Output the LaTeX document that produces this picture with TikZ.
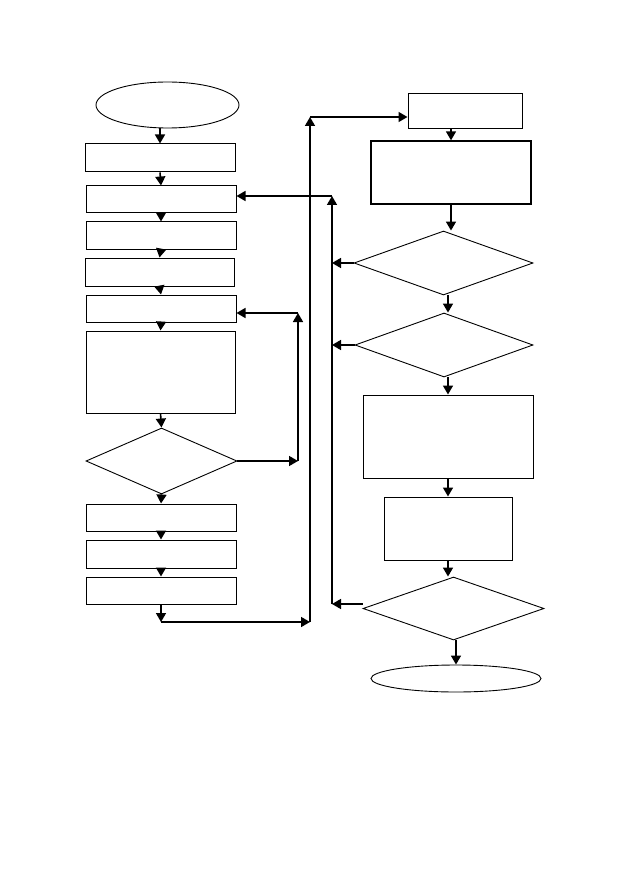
\documentclass[tikz,border=0pt]{standalone}
\usetikzlibrary{shapes.geometric,arrows.meta}
\begin{document}
\begin{tikzpicture}[x=1pt,y=-1pt,
  box/.style={draw,line width=1pt,rectangle,inner sep=0pt},
  dia/.style={draw,line width=0.9pt,diamond,inner sep=0pt},
  ell/.style={draw,line width=0.9pt,ellipse,inner sep=0pt},
  arr/.style={line width=1.6pt,-{Triangle[length=9pt,width=10pt]}},
  ln/.style={line width=1.6pt}]
\useasboundingbox[fill=white] (0,0) rectangle (629,893);
% left column
\node[ell,minimum width=143pt,minimum height=46pt] (st) at (167.5,105) {};
\node[box,minimum width=150pt,minimum height=28pt] (b1) at (160,158) {};
\node[box,minimum width=150pt,minimum height=27pt] (b2) at (161,199.5) {};
\node[box,minimum width=150pt,minimum height=27pt] (b3) at (161,235.5) {};
\node[box,minimum width=149pt,minimum height=28pt] (b4) at (159.5,272) {};
\node[box,minimum width=150pt,minimum height=27pt] (b5) at (161,308.5) {};
\node[box,minimum width=149pt,minimum height=82pt] (b6) at (160.5,372) {};
\node[dia,minimum width=151pt,minimum height=66pt] (d1) at (161.5,461) {};
\node[box,minimum width=150pt,minimum height=27pt] (b7) at (161,517.5) {};
\node[box,minimum width=150pt,minimum height=28pt] (b8) at (161,554) {};
\node[box,minimum width=150pt,minimum height=27pt] (b9) at (161,590.5) {};
% right column
\node[box,minimum width=114pt,minimum height=35pt] (r1) at (465,111.5) {};
\node[box,line width=1.3pt,minimum width=160pt,minimum height=63pt] (r2) at (451,172.5) {};
\node[dia,minimum width=179pt,minimum height=64pt] (d2) at (443.5,263) {};
\node[dia,minimum width=178pt,minimum height=64pt] (d3) at (444,345) {};
\node[box,minimum width=170pt,minimum height=83pt] (r3) at (448,436.5) {};
\node[box,minimum width=128pt,minimum height=63pt] (r4) at (448,528.5) {};
\node[dia,minimum width=181pt,minimum height=63pt] (d4) at (453.5,608.5) {};
\node[ell,minimum width=170pt,minimum height=27pt] (en) at (456,678.5) {};
% coordinates
\coordinate (j) at (161,622);
\coordinate (v1bot) at (310,622);
\coordinate (v1top) at (310,117);
\coordinate (v2bot) at (332,604);
\coordinate (v2top) at (332,196);
\coordinate (c1) at (298,461);
\coordinate (c2) at (298,313);
% left arrows
\draw[arr] (b1.north |- st.south) -- (b1.north);
\draw[arr] (b1.south) -- (b2.north);
\draw[arr] (b2.south) -- (b3.north);
\draw[arr] (b3.south) -- (b4.north);
\draw[arr] (b4.south) -- (b5.north);
\draw[arr] (b5.south) -- (b6.north);
\draw[arr] (b6.south) -- (d1.north);
\draw[arr] (d1.south) -- (b7.north);
\draw[arr] (b7.south) -- (b8.north);
\draw[arr] (b8.south) -- (b9.north);
\draw[arr] (b9.south) -- (j);
\draw[arr] (j) -- (v1bot);
\draw[arr] (v1bot) -- (v1top);
\draw[arr] (v1top) -- (r1.west |- v1top);
% loop
\draw[arr] (d1.east) -- (c1);
\draw[arr] (c1) -- (c2);
\draw[arr] (c2) -- (b5.east |- c2);
% right arrows
\draw[arr] (r2.north |- r1.south) -- (r2.north);
\draw[arr] (r2.south) -- (r2.south |- d2.north);
\draw[arr] (d2.south -| r3.north) -- (d3.north -| r3.north);
\draw[arr] (d3.south -| r3.north) -- (r3.north);
\draw[arr] (r3.south) -- (r4.north);
\draw[arr] (r4.south) -- (r4.south |- d4.north);
\draw[arr] (d4.south -| en.north) -- (en.north);
% feedback
\draw[arr] (d2.west) -- (d2.west -| v2bot);
\draw[arr] (d3.west) -- (d3.west -| v2bot);
\draw[arr] (d4.west |- v2bot) -- (v2bot);
\draw[arr] (v2bot) -- (v2top);
\draw[arr] (v2top) -- (b2.east |- v2top);
\end{tikzpicture}
\end{document}
